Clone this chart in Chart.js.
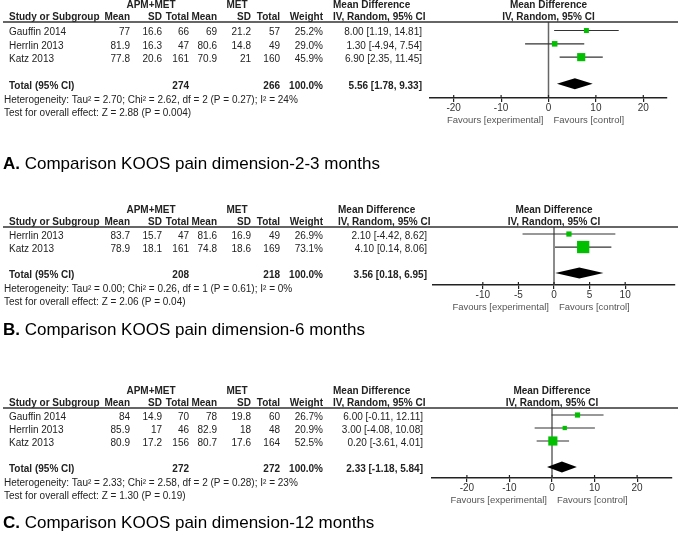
<!DOCTYPE html>
<html>
<head>
<meta charset="utf-8">
<script src="https://cdn.jsdelivr.net/npm/chart.js@4.4.1/dist/chart.umd.min.js"></script>
<style>
  html, body { margin: 0; padding: 0; background: #fff; }
  body { width: 685px; height: 545px; position: relative; overflow: hidden; }
  canvas { position: absolute; left: 0; }
</style>
</head>
<body>
<canvas id="panelA" width="685" height="175" style="top:0px"></canvas>
<canvas id="panelB" width="685" height="180" style="top:175px"></canvas>
<canvas id="panelC" width="685" height="190" style="top:355px"></canvas>
<script>
// ---- A: 2-3 months
const studiesA = ['Gauffin 2014', 'Herrlin 2013', 'Katz 2013'];
const apmMeanA = [77, 81.9, 77.8];
const apmSdA = [16.6, 16.3, 20.6];
const apmNA = [66, 47, 161];
const metMeanA = [69, 80.6, 70.9];
const metSdA = [21.2, 14.8, 21];
const metNA = [57, 49, 160];
const weightA = [25.2, 29.0, 45.9];
const mdA = [8.00, 1.30, 6.90];
const loA = [1.19, -4.94, 2.35];
const hiA = [14.81, 7.54, 11.45];
const totalA = [5.56, 1.78, 9.33];
const totalNA = [274, 266];
const hetA = 'Heterogeneity: Tau² = 2.70; Chi² = 2.62, df = 2 (P = 0.27); I² = 24%';
const testA = 'Test for overall effect: Z = 2.88 (P = 0.004)';
const ticksA = [-20, -10, 0, 10, 20];

// ---- B: 6 months
const studiesB = ['Herrlin 2013', 'Katz 2013'];
const apmMeanB = [83.7, 78.9];
const apmSdB = [15.7, 18.1];
const apmNB = [47, 161];
const metMeanB = [81.6, 74.8];
const metSdB = [16.9, 18.6];
const metNB = [49, 169];
const weightB = [26.9, 73.1];
const mdB = [2.10, 4.10];
const loB = [-4.42, 0.14];
const hiB = [8.62, 8.06];
const totalB = [3.56, 0.18, 6.95];
const totalNB = [208, 218];
const hetB = 'Heterogeneity: Tau² = 0.00; Chi² = 0.26, df = 1 (P = 0.61); I² = 0%';
const testB = 'Test for overall effect: Z = 2.06 (P = 0.04)';
const ticksB = [-10, -5, 0, 5, 10];

// ---- C: 12 months
const studiesC = ['Gauffin 2014', 'Herrlin 2013', 'Katz 2013'];
const apmMeanC = [84, 85.9, 80.9];
const apmSdC = [14.9, 17, 17.2];
const apmNC = [70, 46, 156];
const metMeanC = [78, 82.9, 80.7];
const metSdC = [19.8, 18, 17.6];
const metNC = [60, 48, 164];
const weightC = [26.7, 20.9, 52.5];
const mdC = [6.00, 3.00, 0.20];
const loC = [-0.11, -4.08, -3.61];
const hiC = [12.11, 10.08, 4.01];
const totalC = [2.33, -1.18, 5.84];
const totalNC = [272, 272];
const hetC = 'Heterogeneity: Tau² = 2.33; Chi² = 2.58, df = 2 (P = 0.28); I² = 23%';
const testC = 'Test for overall effect: Z = 1.30 (P = 0.19)';
const ticksC = [-20, -10, 0, 10, 20];

const FONT = '"Liberation Sans", Arial, sans-serif';
const INK = '#222';
const GREEN = '#00c000';
// right edges of the table columns
const COL = { m1: 130, sd1: 162, n1: 189, m2: 217, sd2: 251, n2: 280, w: 323 };

Chart.defaults.font.family = FONT;

const forestPlugin = {
  id: 'forest',
  afterDatasetsDraw(chart, args, o) {
    const { ctx, scales: { x, y } } = chart;
    const d = o.data;
    const ti = d.studies.length + 1;
    const cy = y.getPixelForValue(ti);
    const [est, lo, hi] = d.total;
    ctx.save();
    ctx.fillStyle = '#000';
    ctx.beginPath();
    ctx.moveTo(x.getPixelForValue(lo), cy);
    ctx.lineTo(x.getPixelForValue(est), cy - 5.5);
    ctx.lineTo(x.getPixelForValue(hi), cy);
    ctx.lineTo(x.getPixelForValue(est), cy + 5.5);
    ctx.closePath();
    ctx.fill();
    ctx.restore();
  },
  afterDraw(chart, args, o) {
    const { ctx, chartArea: ca, scales: { x, y } } = chart;
    const d = o.data, L = o.layout;
    ctx.save();
    ctx.textBaseline = 'middle';
    ctx.fillStyle = INK;
    const txt = (s, px, py, align, bold) => {
      ctx.font = (bold ? 'bold ' : '') + '10px ' + FONT;
      ctx.textAlign = align;
      ctx.fillText(s, px, py);
    };
    const mid = (ca.left + ca.right) / 2;
    const h1 = ca.top - 17, h2 = ca.top - 5;
    txt('APM+MET', 151, h1, 'center', true);
    txt('MET', 237, h1, 'center', true);
    txt('Mean Difference', L.mdLeft, h1, 'left', true);
    txt('Mean Difference', mid, h1, 'center', true);
    txt('Study or Subgroup', 9, h2, 'left', true);
    txt('Mean', COL.m1, h2, 'right', true);
    txt('SD', COL.sd1, h2, 'right', true);
    txt('Total', COL.n1, h2, 'right', true);
    txt('Mean', COL.m2, h2, 'right', true);
    txt('SD', COL.sd2, h2, 'right', true);
    txt('Total', COL.n2, h2, 'right', true);
    txt('Weight', COL.w, h2, 'right', true);
    txt('IV, Random, 95% CI', L.mdLeft, h2, 'left', true);
    txt('IV, Random, 95% CI', mid, h2, 'center', true);

    ctx.strokeStyle = '#333';
    ctx.lineWidth = 1.5;
    ctx.beginPath();
    ctx.moveTo(3, ca.top);
    ctx.lineTo(678, ca.top);
    ctx.stroke();

    d.studies.forEach((s, i) => {
      const py = y.getPixelForValue(i) + 2;
      txt(s, 9, py, 'left');
      txt(String(d.apmMean[i]), COL.m1, py, 'right');
      txt(String(d.apmSd[i]), COL.sd1, py, 'right');
      txt(String(d.apmN[i]), COL.n1, py, 'right');
      txt(String(d.metMean[i]), COL.m2, py, 'right');
      txt(String(d.metSd[i]), COL.sd2, py, 'right');
      txt(String(d.metN[i]), COL.n2, py, 'right');
      txt(d.weight[i].toFixed(1) + '%', COL.w, py, 'right');
      txt(`${d.md[i].toFixed(2)} [${d.lo[i].toFixed(2)}, ${d.hi[i].toFixed(2)}]`, L.mdRight, py, 'right');
    });
    const ti = d.studies.length + 1;
    const ty = y.getPixelForValue(ti) + 2;
    txt('Total (95% CI)', 9, ty, 'left', true);
    txt(String(d.totalN[0]), COL.n1, ty, 'right', true);
    txt(String(d.totalN[1]), COL.n2, ty, 'right', true);
    txt('100.0%', COL.w, ty, 'right', true);
    const [est, lo, hi] = d.total;
    txt(`${est.toFixed(2)} [${lo.toFixed(2)}, ${hi.toFixed(2)}]`, L.mdRight, ty, 'right', true);
    txt(d.het, 4, ty + 14, 'left');
    txt(d.test, 4, ty + 27, 'left');

    // upper half of the axis tick marks
    ctx.strokeStyle = '#222';
    ctx.lineWidth = 1.2;
    x.ticks.forEach(t => {
      const px = x.getPixelForValue(t.value);
      ctx.beginPath();
      ctx.moveTo(px, ca.bottom - 3);
      ctx.lineTo(px, ca.bottom);
      ctx.stroke();
    });

    const zx = x.getPixelForValue(0);
    ctx.fillStyle = '#555';
    ctx.font = '9.5px ' + FONT;
    ctx.textAlign = 'right';
    ctx.fillText('Favours [experimental]', zx - 5, ca.bottom + 22);
    ctx.textAlign = 'left';
    ctx.fillText('Favours [control]', zx + 5, ca.bottom + 22);

    ctx.fillStyle = '#000';
    ctx.textAlign = 'left';
    ctx.font = 'bold 17px ' + FONT;
    ctx.fillText(L.letter, 3, L.titleY);
    const w = ctx.measureText(L.letter).width;
    ctx.font = '17px ' + FONT;
    ctx.fillText(' ' + L.title, 3 + w, L.titleY);
    ctx.restore();
  }
};

function makeForest(id, d, L) {
  const squares = {
    data: d.md.map((v, i) => ({ x: v, y: i })),
    pointStyle: 'rect',
    pointRadius: d.weight.map(w => (1.1 + 0.153 * w) / Math.SQRT2),
    backgroundColor: GREEN,
    borderWidth: 0,
    showLine: false
  };
  const cis = d.md.map((v, i) => ({
    data: [{ x: d.lo[i], y: i }, { x: d.hi[i], y: i }],
    showLine: true,
    borderColor: '#333',
    borderWidth: 1.2,
    pointRadius: 0
  }));
  const zero = {
    data: [{ x: 0, y: L.yMin }, { x: 0, y: L.yMax }],
    showLine: true,
    borderColor: '#666',
    borderWidth: 1.5,
    pointRadius: 0
  };
  new Chart(document.getElementById(id), {
    type: 'scatter',
    data: { datasets: [squares, ...cis, zero] },
    options: {
      responsive: false,
      animation: false,
      devicePixelRatio: 1,
      layout: {
        padding: { left: L.left, right: 685 - L.right, top: L.top, bottom: L.H - L.bottom - 30 }
      },
      plugins: {
        legend: { display: false },
        tooltip: { enabled: false },
        forest: { data: d, layout: L }
      },
      scales: {
        x: {
          type: 'linear',
          min: L.xMin,
          max: L.xMax,
          afterBuildTicks: s => { s.ticks = d.ticks.map(v => ({ value: v })); },
          afterFit: s => { s.height = 30; },
          ticks: { font: { size: 10 }, color: '#333', padding: 0, maxRotation: 0, autoSkip: false },
          grid: { display: true, drawOnChartArea: false, drawTicks: true, tickLength: 4, color: '#222', lineWidth: 1.2 },
          border: { display: true, color: '#222', width: 1.5 }
        },
        y: { type: 'linear', reverse: true, min: L.yMin, max: L.yMax, display: false }
      }
    },
    plugins: [forestPlugin]
  });
}

makeForest('panelA', {
  studies: studiesA, apmMean: apmMeanA, apmSd: apmSdA, apmN: apmNA,
  metMean: metMeanA, metSd: metSdA, metN: metNA, weight: weightA,
  md: mdA, lo: loA, hi: hiA, total: totalA, totalN: totalNA,
  het: hetA, test: testA, ticks: ticksA
}, { letter: 'A.', title: 'Comparison KOOS pain dimension-2-3 months', titleY: 164,
     H: 175, top: 22, bottom: 98, left: 430, right: 667, xMin: -25, xMax: 25,
     yMin: -0.64, yMax: 5.07, mdLeft: 333, mdRight: 422 });

makeForest('panelB', {
  studies: studiesB, apmMean: apmMeanB, apmSd: apmSdB, apmN: apmNB,
  metMean: metMeanB, metSd: metSdB, metN: metNB, weight: weightB,
  md: mdB, lo: loB, hi: hiB, total: totalB, totalN: totalNB,
  het: hetB, test: testB, ticks: ticksB
}, { letter: 'B.', title: 'Comparison KOOS pain dimension-6 months', titleY: 155,
     H: 180, top: 52, bottom: 110, left: 433, right: 675, xMin: -17, xMax: 17,
     yMin: -0.54, yMax: 3.92, mdLeft: 338, mdRight: 427 });

makeForest('panelC', {
  studies: studiesC, apmMean: apmMeanC, apmSd: apmSdC, apmN: apmNC,
  metMean: metMeanC, metSd: metSdC, metN: metNC, weight: weightC,
  md: mdC, lo: loC, hi: hiC, total: totalC, totalN: totalNC,
  het: hetC, test: testC, ticks: ticksC
}, { letter: 'C.', title: 'Comparison KOOS pain dimension-12 months', titleY: 168,
     H: 190, top: 53, bottom: 123, left: 432, right: 672, xMin: -28.2, xMax: 28.2,
     yMin: -0.54, yMax: 4.85, mdLeft: 333, mdRight: 423 });
</script>
</body>
</html>
